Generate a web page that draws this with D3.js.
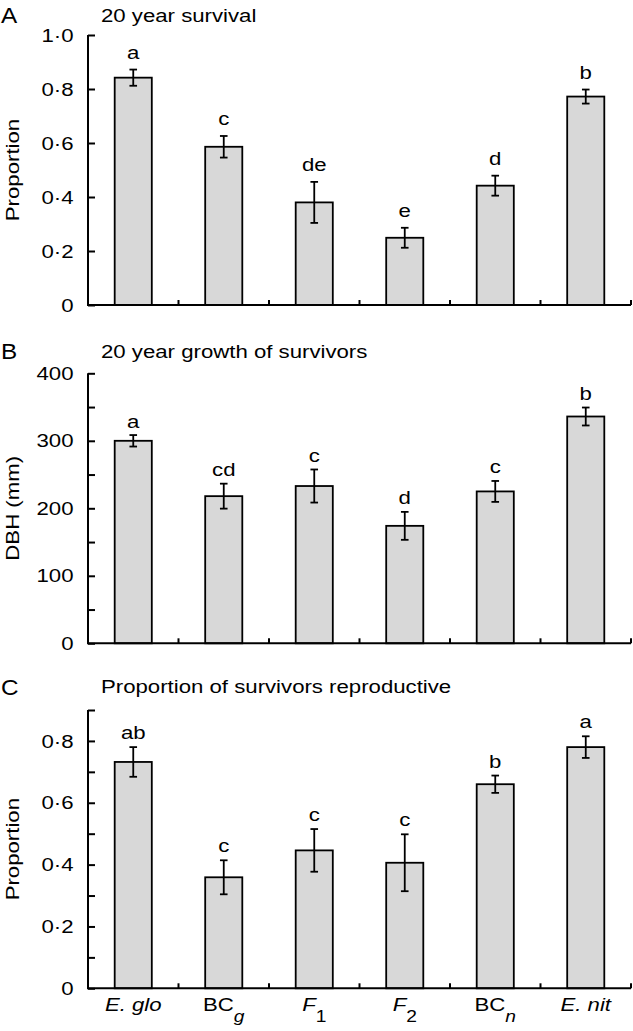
<!DOCTYPE html>
<html><head><meta charset="utf-8">
<script src="https://cdn.jsdelivr.net/npm/d3@7"></script>
<style>
body{margin:0;background:#fff;}
svg text{font-family:"Liberation Sans",Arial,Helvetica,sans-serif;fill:#000;}
</style></head>
<body><svg id="chart" width="633" height="1031"></svg>
<script>
const categories = ["E. glo","BCg","F1","F2","BCn","E. nit"];

const survival      = [0.842, 0.586, 0.380, 0.249, 0.442, 0.772];
const survivalErr   = [0.030, 0.040, 0.076, 0.037, 0.037, 0.026];
const survivalSig   = ["a","c","de","e","d","b"];

const growth        = [300, 218, 233, 174, 225, 336];
const growthErr     = [8.5, 18.5, 24.5, 20.7, 15.5, 13.3];
const growthSig     = ["a","cd","c","d","c","b"];

const repro         = [0.732, 0.359, 0.446, 0.406, 0.660, 0.780];
const reproErr      = [0.048, 0.055, 0.069, 0.092, 0.028, 0.035];
const reproSig      = ["ab","c","c","c","b","a"];

const panelLetters  = ["A","B","C"];
const panelTitles   = ["20 year survival","20 year growth of survivors","Proportion of survivors reproductive"];
const yTitles       = ["Proportion","DBH (mm)","Proportion"];
const majorTicksA   = [0,0.2,0.4,0.6,0.8,1.0];
const majorTicksB   = [0,100,200,300,400];
const minorTicksB   = [50,150,250,350];
const majorTicksC   = [0,0.2,0.4,0.6,0.8];
const minorTicksC   = [0.1,0.3,0.5,0.7,0.9];

const FS = 18.5, SX = 1.2;
const svg = d3.select("#chart");
const x0 = 88, x1 = 631;
const x = d3.scaleBand().domain(categories).range([x0, x1]).paddingInner(0.59).paddingOuter(0.295);

const fmtProp = v => v === 0 ? "0" : d3.format(".1f")(v).replace(".", "\u00B7");
const fmtInt = v => String(v);
const tf = (px, py, rot) => `translate(${px},${py})${rot ? ` rotate(${rot})` : ""} scale(${SX},1)`;

const panels = [
  {vals: survival, err: survivalErr, sig: survivalSig, dom:[0,1], top:35, bot:305, major:majorTicksA, minor:[], fmt:fmtProp, gap:10.5, titleY:21.5, letterY:22.5},
  {vals: growth, err: growthErr, sig: growthSig, dom:[0,400], top:373.3, bot:643.3, major:majorTicksB, minor:minorTicksB, fmt:fmtInt, gap:7.5, titleY:358, letterY:358.5},
  {vals: repro, err: reproErr, sig: reproSig, dom:[0,0.9], top:710, bot:988.3, major:majorTicksC, minor:minorTicksC, fmt:fmtProp, gap:8, titleY:693, letterY:695},
];

panels.forEach((p, i) => {
  const g = svg.append("g");
  const y = d3.scaleLinear().domain(p.dom).range([p.bot, p.top]);

  g.selectAll("rect.bar").data(p.vals).join("rect")
    .attr("x", (d, j) => x(categories[j]))
    .attr("width", x.bandwidth())
    .attr("y", d => y(d))
    .attr("height", d => y(0) - y(d))
    .attr("fill", "#d8d8d8").attr("stroke", "#000").attr("stroke-width", 1.8);

  const cx = j => x(categories[j]) + x.bandwidth() / 2;
  const eb = g.selectAll("g.eb").data(p.vals).join("g");
  eb.append("line").attr("x1", (d,j)=>cx(j)).attr("x2",(d,j)=>cx(j))
    .attr("y1",(d,j)=>y(d+p.err[j])).attr("y2",(d,j)=>y(d-p.err[j]))
    .attr("stroke","#000").attr("stroke-width",1.8);
  [1,-1].forEach(s => {
    eb.append("line").attr("x1",(d,j)=>cx(j)-3.8).attr("x2",(d,j)=>cx(j)+3.8)
      .attr("y1",(d,j)=>y(d+s*p.err[j])).attr("y2",(d,j)=>y(d+s*p.err[j]))
      .attr("stroke","#000").attr("stroke-width",1.8);
  });

  g.selectAll("text.sig").data(p.vals).join("text")
    .attr("transform",(d,j)=>tf(cx(j), y(d+p.err[j]) - p.gap))
    .attr("text-anchor","middle").attr("font-size",FS).text((d,j)=>p.sig[j]);

  const yAxis = d3.axisRight(y).tickValues(p.major.concat(p.minor)).tickSize(7).tickFormat("");
  const ya = g.append("g").attr("transform",`translate(${x0},0)`).call(yAxis);
  ya.select(".domain").attr("d", `M0,${y(p.dom[0])}V${y(p.dom[1])}`).attr("stroke-width",2);
  ya.selectAll(".tick line").attr("stroke-width",2);
  g.selectAll("text.ytl").data(p.major).join("text")
    .attr("transform", d => tf(73.5, y(d)))
    .attr("dy","0.36em")
    .attr("text-anchor","end").attr("font-size",FS).text(p.fmt);

  g.append("line").attr("x1",x0-1).attr("x2",x1).attr("y1",y(0)).attr("y2",y(0))
    .attr("stroke","#000").attr("stroke-width",2);
  const bounds = categories.map((c,j)=> x(c) - x.step()*x.paddingInner()/2 + x.step());
  g.selectAll("line.xt").data(bounds).join("line")
    .attr("x1",d=>d).attr("x2",d=>d).attr("y1",y(0)).attr("y2",y(0)-5)
    .attr("stroke","#000").attr("stroke-width",2);

  g.append("text").attr("transform", tf(18.5, (p.top+p.bot)/2, -90))
    .attr("text-anchor","middle").attr("font-size",FS).text(yTitles[i]);

  g.append("text").attr("transform",`translate(1,${p.letterY}) scale(1.08,1)`).attr("font-size",22.5).text(panelLetters[i]);
  g.append("text").attr("transform", tf(101, p.titleY)).attr("font-size",FS).text(panelTitles[i]);
});

const xl = svg.append("g");
const xlY = 1010.5;
categories.forEach((c) => {
  const t = xl.append("text").attr("transform", tf(x(c) + x.bandwidth()/2, xlY))
    .attr("text-anchor","middle").attr("font-size",FS);
  if (c === "E. glo" || c === "E. nit") {
    t.attr("font-style","italic").text(c);
  } else if (c.startsWith("BC")) {
    t.append("tspan").text("BC");
    t.append("tspan").attr("font-style","italic").attr("font-size",16).attr("dy",11).text(c.slice(2));
  } else {
    t.append("tspan").attr("font-style","italic").text("F");
    t.append("tspan").attr("font-size",16).attr("dy",11).text(c.slice(1));
  }
});
</script></body></html>
